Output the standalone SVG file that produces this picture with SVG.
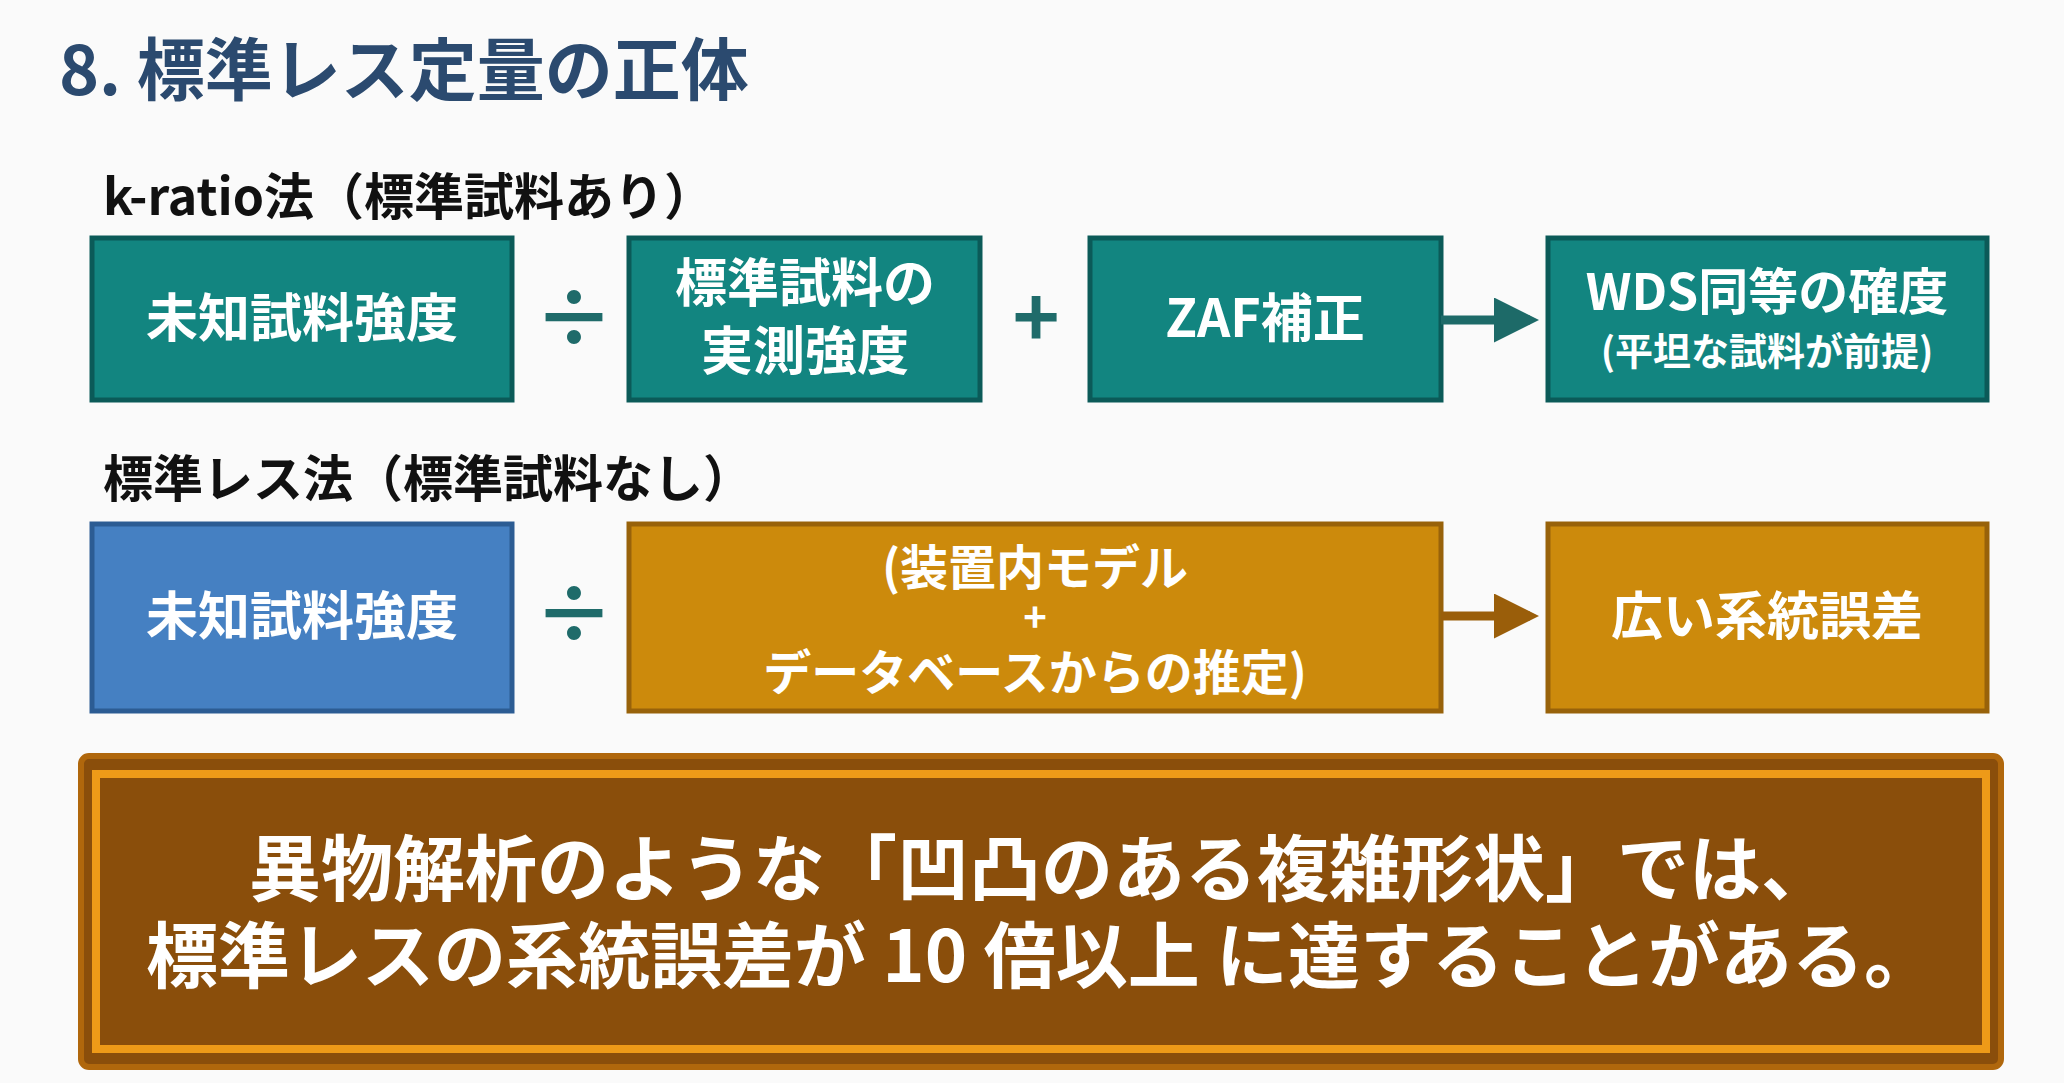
<svg xmlns="http://www.w3.org/2000/svg" width="2064" height="1083" viewBox="0 0 2064 1083">
<style>
text{font-family:"Noto Sans CJK JP","Noto Sans",sans-serif;font-weight:700}
.t{fill:#128580;stroke:#0b5a58;stroke-width:5}
.b{fill:#4580c2;stroke:#2c5c93;stroke-width:5}
.o{fill:#cc8a0c;stroke:#98620a;stroke-width:5}
.w{fill:#fff;text-anchor:middle;font-size:52px}
.op{fill:#1f6b6a;text-anchor:middle;font-size:80px}
.lbl{fill:#111;font-size:50px}
</style>
<defs><marker id="ah" markerWidth="5" markerHeight="5" refX="4" refY="2.5" orient="auto"><path d="M0,0L5,2.5L0,5z" fill="#1d6a68"/></marker>
<marker id="ah2" markerWidth="5" markerHeight="5" refX="4" refY="2.5" orient="auto"><path d="M0,0L5,2.5L0,5z" fill="#9a5e0a"/></marker></defs>
<rect width="2064" height="1083" fill="#fafafa"/>
<text x="59" y="95" style="font-size:68px" fill="#2b4a6f">8. 標準レス定量の正体</text>
<text class="lbl" x="103" y="215">k-ratio法（標準試料あり）</text>
<text class="lbl" x="103" y="497">標準レス法（標準試料なし）</text>
<g id="n1"><rect class="t" x="92" y="238" width="420" height="162"/><text class="w" x="302" y="337">未知試料強度</text></g>
<g id="n2"><rect class="t" x="629" y="238" width="351" height="162"/><text class="w" x="805" y="302">標準試料の</text><text class="w" x="805" y="370">実測強度</text></g>
<g id="n3"><rect class="t" x="1090" y="238" width="351" height="162"/><text class="w" x="1265" y="337">ZAF補正</text></g>
<g id="n4"><rect class="t" x="1548" y="238" width="439" height="162"/><text class="w" x="1767" y="310" style="font-size:50px">WDS同等の確度</text><text class="w" x="1767" y="365" style="font-size:38px">(平坦な試料が前提)</text></g>
<g id="n5"><rect class="b" x="92" y="524" width="420" height="187"/><text class="w" x="302" y="635">未知試料強度</text></g>
<g id="n6"><rect class="o" x="629" y="524" width="812" height="187"/><text class="w" x="1035" y="585" style="font-size:48px">(装置内モデル</text><text class="w" x="1035" y="632" style="font-size:40px">+</text><text class="w" x="1035" y="690" style="font-size:48px">データベースからの推定)</text></g>
<g id="n7"><rect class="o" x="1548" y="524" width="439" height="187"/><text class="w" x="1767" y="635">広い系統誤差</text></g>
<g id="ops"><text class="op" x="574" y="347">÷</text><text class="op" x="1036" y="347">+</text><text class="op" x="574" y="643">÷</text></g>
<g id="connectors"><line x1="1441" y1="320" x2="1530" y2="320" stroke="#1d6a68" stroke-width="9" marker-end="url(#ah)"/><line x1="1441" y1="616" x2="1530" y2="616" stroke="#9a5e0a" stroke-width="9" marker-end="url(#ah2)"/></g>
<g id="note"><rect x="81" y="756" width="1920" height="311" rx="8" fill="#8a4e0b" stroke="#b0670c" stroke-width="6"/><rect x="96" y="774" width="1890" height="275" fill="none" stroke="#ee9a18" stroke-width="8"/>
<text x="1041" y="895" fill="#fff" text-anchor="middle" style="font-size:72px">異物解析のような「凹凸のある複雑形状」では、</text>
<text x="1041" y="982" fill="#fff" text-anchor="middle" style="font-size:72px">標準レスの系統誤差が 10 倍以上 に達することがある。</text></g>
</svg>
